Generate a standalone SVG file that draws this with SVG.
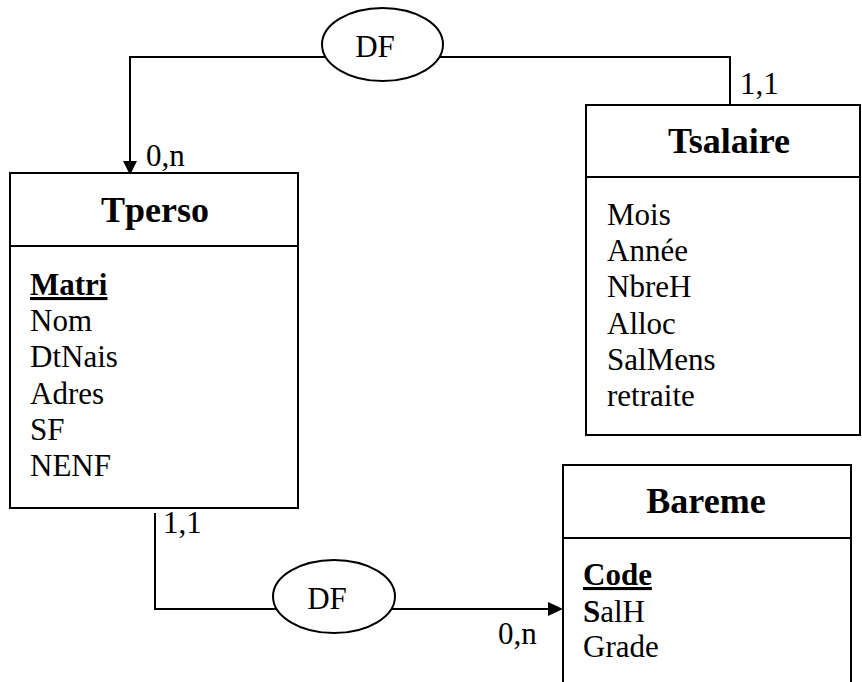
<svg xmlns="http://www.w3.org/2000/svg" width="862" height="682" viewBox="0 0 862 682">
<style>
  .box { fill: #fff; stroke: #000; stroke-width: 2; }
  .ln { fill: none; stroke: #000; stroke-width: 2; }
  .t { font-family: "Liberation Serif", "Times New Roman", serif; font-size: 31px; fill: #000; }
  .title { font-family: "Liberation Serif", "Times New Roman", serif; font-size: 36px; font-weight: bold; fill: #000; text-anchor: middle; }
  .key { font-weight: bold; text-decoration: underline; }
  .mid { text-anchor: middle; }
</style>
<rect x="0" y="0" width="862" height="682" fill="#fff"/>

<g id="connectors">
  <!-- Tsalaire -> DF -> Tperso -->
  <polyline class="ln" points="730,105 730,57 440,57"/>
  <polyline class="ln" points="325,57 130,57 130,162"/>
  <polygon points="123,161 137,161 130,175" fill="#000"/>
  <!-- Tperso -> DF -> Bareme -->
  <polyline class="ln" points="155,513 155,609 276,609"/>
  <line class="ln" x1="392" y1="609" x2="549" y2="609"/>
  <polygon points="548,602 548,616 563,609" fill="#000"/>
  <text class="t" x="146" y="166">0,n</text>
  <text class="t" x="740" y="94">1,1</text>
  <text class="t" x="163" y="533">1,1</text>
  <text class="t" x="498" y="644">0,n</text>
</g>

<g id="df1">
  <ellipse class="box" cx="382.5" cy="44.5" rx="60.5" ry="36.5"/>
  <text class="t mid" x="375" y="57">DF</text>
</g>

<g id="df2">
  <ellipse class="box" cx="334" cy="596.5" rx="61" ry="36.5"/>
  <text class="t mid" x="327" y="609">DF</text>
</g>

<g id="tperso">
  <rect class="box" x="10" y="173" width="288" height="335"/>
  <line class="ln" x1="10" y1="246" x2="298" y2="246"/>
  <text class="title" x="155" y="222">Tperso</text>
  <text class="t key" x="30" y="295">Matri</text>
  <text class="t" x="30" y="331">Nom</text>
  <text class="t" x="30" y="367">DtNais</text>
  <text class="t" x="30" y="404">Adres</text>
  <text class="t" x="30" y="440">SF</text>
  <text class="t" x="30" y="476">NENF</text>
</g>

<g id="tsalaire">
  <rect class="box" x="586" y="105" width="274" height="330"/>
  <line class="ln" x1="586" y1="177" x2="860" y2="177"/>
  <text class="title" x="729" y="153">Tsalaire</text>
  <text class="t" x="607" y="225">Mois</text>
  <text class="t" x="607" y="261">Année</text>
  <text class="t" x="607" y="297">NbreH</text>
  <text class="t" x="607" y="334">Alloc</text>
  <text class="t" x="607" y="370">SalMens</text>
  <text class="t" x="607" y="406">retraite</text>
</g>

<g id="bareme">
  <rect class="box" x="563" y="465" width="288" height="240"/>
  <line class="ln" x1="563" y1="538" x2="851" y2="538"/>
  <text class="title" x="706" y="513">Bareme</text>
  <text class="t key" x="583" y="585">Code</text>
  <text class="t" x="583" y="622"><tspan font-weight="bold">S</tspan>alH</text>
  <text class="t" x="583" y="657">Grade</text>
</g>
</svg>
